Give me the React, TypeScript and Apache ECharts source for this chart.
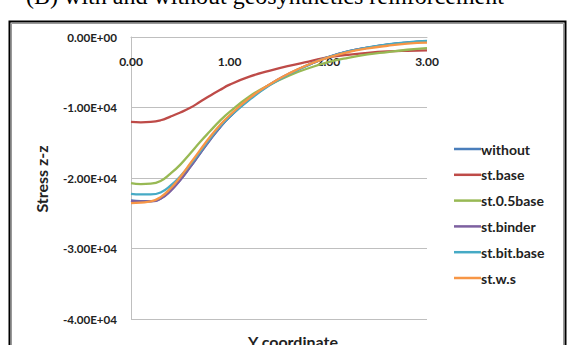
import React, { useEffect, useRef } from "react";
import * as echarts from "echarts";

const xCoords = [0, 0.1, 0.2, 0.3, 0.4, 0.5, 0.6, 0.7, 0.8, 0.9, 1.0, 1.2, 1.4, 1.6, 1.8, 2.0, 2.2, 2.4, 2.6, 2.8, 3.0];

const without = [-23190, -23290, -23290, -22900, -21760, -20240, -18430, -16520, -14620, -12860, -11330, -8810, -6810, -5240, -3950, -2860, -2050, -1520, -1100, -810, -620];
const stBase = [-12050, -12100, -12050, -11810, -11290, -10710, -10050, -9190, -8330, -7520, -6760, -5620, -4810, -4100, -3480, -2860, -2520, -2240, -2050, -1950, -1900];
const st05Base = [-20710, -20860, -20810, -20430, -19380, -18100, -16520, -14900, -13380, -11900, -10620, -8430, -6810, -5480, -4430, -3570, -2950, -2480, -2140, -1810, -1570];
const stBinder = [-23250, -23330, -23320, -22950, -21850, -20300, -18450, -16500, -14600, -12840, -11300, -8790, -6790, -5220, -3930, -2850, -2040, -1510, -1090, -800, -610];
const stBitBase = [-22240, -22330, -22330, -22050, -21100, -19760, -18100, -16290, -14430, -12710, -11290, -8900, -6900, -5290, -3950, -2860, -2050, -1480, -1050, -760, -570];
const stWs = [-23570, -23480, -23330, -22710, -21480, -19860, -17950, -16050, -14190, -12520, -11100, -8670, -6760, -5190, -3900, -2900, -2140, -1620, -1240, -950, -810];

const seriesNames = ["without", "st.base", "st.0.5base", "st.binder", "st.bit.base", "st.w.s"];
const seriesValues = [without, stBase, st05Base, stBinder, stBitBase, stWs];
const seriesColors = ["#4A7EBB", "#BE4B48", "#98B954", "#7D60A0", "#46AAC5", "#F79646"];

const titleText = "(B) with and without geosynthetics reinforcement";
const yTitle = "Stress z-z";
const xTitle = "Y coordinate";

function sci(v: number): string {
  if (v === 0) return "0.00E+00";
  const sign = v < 0 ? "-" : "";
  const a = Math.abs(v);
  const e = Math.floor(Math.log10(a));
  const m = a / Math.pow(10, e);
  return sign + m.toFixed(2) + "E+" + (e < 10 ? "0" + e : String(e));
}

export default function App() {
  const ref = useRef<HTMLDivElement>(null);
  useEffect(() => {
    if (!ref.current) return;
    const chart = echarts.init(ref.current, null, { renderer: "svg" });
    const font = "Lato, 'Open Sans', sans-serif";
    chart.setOption({
      animation: false,
      backgroundColor: "#ffffff",
      grid: { left: 131, right: 142, top: 37, bottom: 26, containLabel: false },
      xAxis: {
        type: "value",
        min: 0,
        max: 3,
        interval: 1,
        position: "top",
        axisLine: { show: true, lineStyle: { color: "#BFBFBF", width: 1 } },
        axisTick: { show: false },
        splitLine: { show: false },
        axisLabel: {
          inside: true,
          margin: 18,
          color: "#222",
          fontFamily: font,
          fontWeight: "bold",
          fontSize: 12,
          formatter: (v: number) => v.toFixed(2),
        },
      },
      yAxis: {
        type: "value",
        min: -40000,
        max: 0,
        interval: 10000,
        axisLine: { show: true, lineStyle: { color: "#BFBFBF", width: 1 } },
        axisTick: { show: false },
        splitLine: { show: true, lineStyle: { color: "#BFBFBF", width: 1 } },
        axisLabel: {
          margin: 14,
          color: "#222",
          fontFamily: font,
          fontWeight: "bold",
          fontSize: 11.6,
          formatter: (v: number) => sci(v),
        },
      },
      legend: {
        orient: "vertical",
        left: 449,
        top: 137,
        itemWidth: 27,
        itemHeight: 16,
        itemGap: 11.8,
        icon: "path://M0,7 L27,7 L27,9.5 L0,9.5 Z",
        textStyle: { color: "#222", fontFamily: font, fontWeight: "bold", fontSize: 14, padding: [0, 0, 0, -5] },
        data: seriesNames,
      },
      series: seriesNames.map((name, i) => ({
        name,
        type: "line",
        smooth: true,
        symbol: "none",
        color: seriesColors[i],
        lineStyle: { width: 2.3, color: seriesColors[i] },
        data: xCoords.map((x, j) => [x, seriesValues[i][j]]),
      })),
      graphic: [
        {
          type: "rect",
          shape: { x: 9.5, y: 21.5, width: 556, height: 340 },
          style: { fill: "none", stroke: "#000", lineWidth: 2 },
          silent: true,
        },
        {
          type: "rect",
          shape: { x: 11.5, y: 23.5, width: 552, height: 340 },
          style: { fill: "none", stroke: "#999", lineWidth: 1 },
          silent: true,
        },
        {
          type: "text",
          x: 265,
          y: 7.5,
          style: {
            text: titleText,
            font: "24px 'Liberation Serif', 'Times New Roman', serif",
            fill: "#000",
            textAlign: "center",
            textVerticalAlign: "bottom",
          },
          silent: true,
        },
        {
          type: "text",
          x: 41,
          y: 179,
          rotation: Math.PI / 2,
          style: {
            text: yTitle,
            font: "bold 16px " + font,
            fill: "#222",
            textAlign: "center",
            textVerticalAlign: "middle",
          },
          silent: true,
        },
        {
          type: "text",
          x: 293,
          y: 341,
          style: {
            text: xTitle,
            font: "bold 16px " + font,
            fill: "#222",
            textAlign: "center",
            textVerticalAlign: "middle",
          },
          silent: true,
        },
      ],
    });
    return () => chart.dispose();
  }, []);
  return <div ref={ref} style={{ position: "fixed", left: 0, top: 0, width: 569, height: 345 }} />;
}
